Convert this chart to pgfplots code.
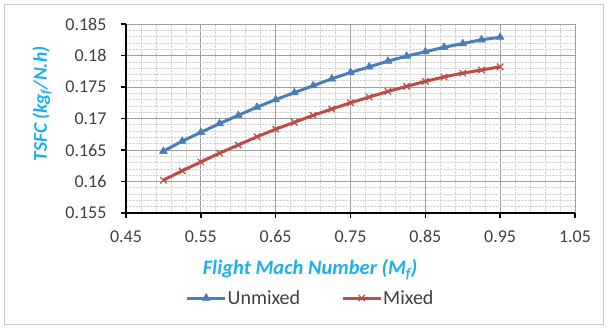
\documentclass[border=0pt]{standalone}
\usepackage{pgfplots}
\pgfplotsset{compat=1.18}
\usepackage{fontspec}
\setmainfont{Carlito}
\definecolor{ublue}{HTML}{4A7EBB}
\definecolor{mred}{HTML}{BE4B48}
\definecolor{lblue}{HTML}{1FB0EC}
\definecolor{tickc}{HTML}{404040}
\begin{document}
\begin{tikzpicture}[x=1pt,y=1pt]
\path (-126,-116) rectangle (482,213);
\draw[draw=gray!45, line width=1pt, fill=white] (-121,-112) rectangle (477,208);
\begin{axis}[
  at={(0,0)}, anchor=south west,
  scale only axis, width=449pt, height=189pt,
  xmin=0.45, xmax=1.05, ymin=0.155, ymax=0.185,
  xtick={0.45,0.55,...,1.06}, ytick={0.155,0.16,...,0.1851},
  minor x tick num=4, minor y tick num=4,
  grid=both,
  major grid style={draw=gray!75, line width=0.8pt},
  minor grid style={draw=gray!35, densely dotted, line width=0.6pt},
  axis x line*=bottom, axis y line*=left,
  axis line style={black, line width=1.8pt, -},
  tick style={black, line width=1.5pt},
  major tick length=5pt, minor tick length=0pt,
  tick align=outside,
  xticklabel style={/pgf/number format/fixed, /pgf/number format/precision=2, text=tickc, font=\fontsize{18}{20}\selectfont},
  yticklabel style={/pgf/number format/fixed, /pgf/number format/precision=3, text=tickc, font=\fontsize{18}{20}\selectfont},
  /pgf/number format/assume math mode=true,
  xticklabel shift=9pt, yticklabel shift=11pt,
  xlabel={\textbf{\textit{Flight Mach Number (M\textsubscript{f})}}},
  ylabel={\textbf{\textit{TSFC (kg\textsubscript{f}/N.h)}}},
  label style={text=lblue},
  xlabel style={at={(axis description cs:0.41,-0.30)}, anchor=center, font=\fontsize{20.5}{22}\selectfont},
  ylabel style={at={(axis description cs:-0.187,0.577)}, anchor=center, font=\fontsize{19.5}{22}\selectfont},
  legend style={at={(0.41,-0.45)}, anchor=center, draw=none, fill=none,
    legend columns=2, font=\fontsize{20}{22}\selectfont, text=tickc,
    nodes={inner xsep=1pt}},
  legend image code/.code={\draw[#1] (0pt,0pt) -- (38pt,0pt); \draw[#1,mark repeat=1] plot coordinates {(19pt,0pt)};},
  clip=false,
]
\addplot[ublue, line width=3pt, mark=triangle*, mark size=4.5pt, mark options={solid, line width=0.5pt}] coordinates {
(0.5,0.1648) (0.525,0.1664) (0.55,0.1678) (0.575,0.1692) (0.6,0.1705)
(0.625,0.1718) (0.65,0.1730) (0.675,0.1741) (0.7,0.1752) (0.725,0.1763)
(0.75,0.1773) (0.775,0.1782) (0.8,0.1791) (0.825,0.1799) (0.85,0.1806)
(0.875,0.1813) (0.9,0.1819) (0.925,0.1825) (0.95,0.1829)};
\addlegendentry{Unmixed\rule{40pt}{0pt}}
\addplot[mred, line width=3pt, mark=x, mark size=4.5pt, mark options={solid, line width=1.2pt}] coordinates {
(0.5,0.1602) (0.525,0.1617) (0.55,0.1631) (0.575,0.1645) (0.6,0.1658)
(0.625,0.1671) (0.65,0.1683) (0.675,0.1694) (0.7,0.1705) (0.725,0.1715)
(0.75,0.1725) (0.775,0.1734) (0.8,0.1743) (0.825,0.1751) (0.85,0.1759)
(0.875,0.1766) (0.9,0.1772) (0.925,0.1777) (0.95,0.1782)};
\addlegendentry{Mixed}
\end{axis}
\end{tikzpicture}
\end{document}
